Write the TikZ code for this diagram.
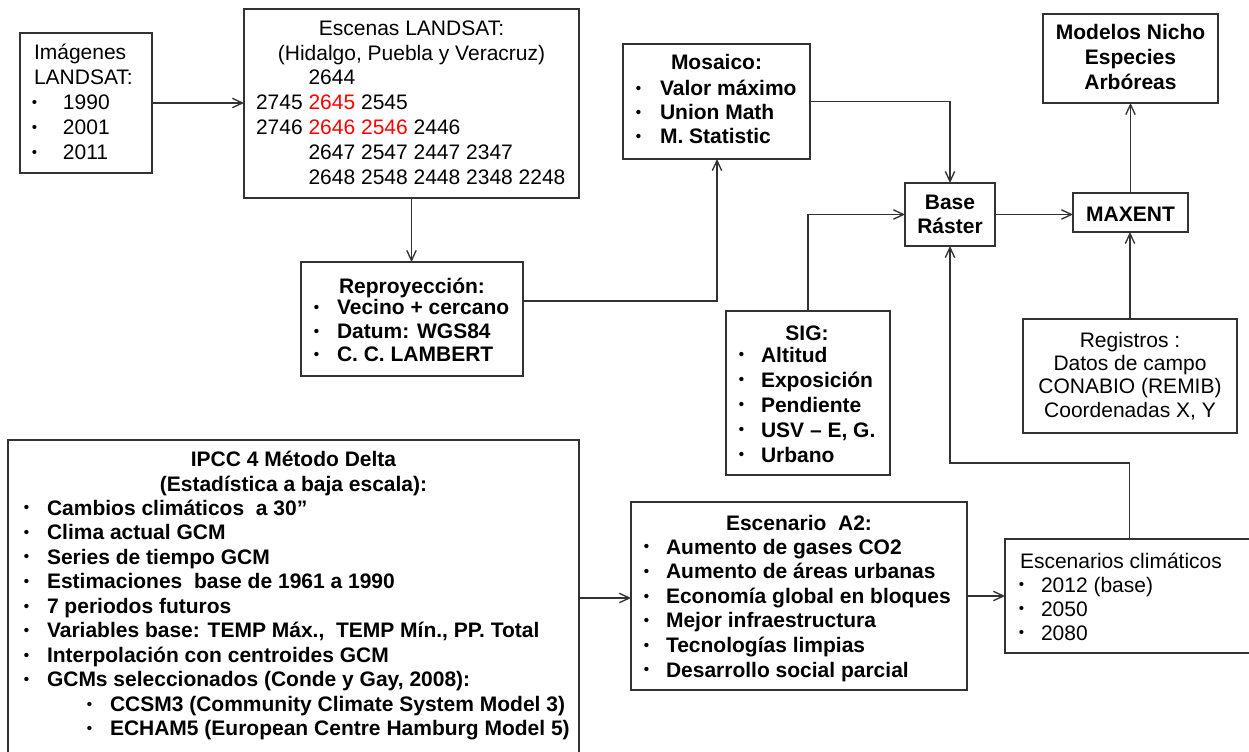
\documentclass[tikz,border=0pt]{standalone}
\usepackage{fontspec}
\usepackage{graphicx}
\setmainfont{Liberation Sans}
\usetikzlibrary{arrows.meta,fit}
\definecolor{linec}{RGB}{50,50,50}
\newcommand\fs{\rule{0pt}{12pt}}
\newcommand\bl[1]{\makebox[#1][l]{\hspace{0.6pt}\raisebox{0.1em}{\scalebox{0.72}{•}}}}
\begin{document}
\begin{tikzpicture}[x=0.75pt,y=-0.75pt,
 box/.style={draw=linec, line width=1pt, inner sep=0pt, outer sep=0pt},
 arr/.style={draw=linec, line width=1pt, -{Straight Barb[length=7.5pt,width=7pt]}},
 txt/.style={inner sep=0pt, outer sep=0pt, align=left, anchor=north west, font={\fontsize{15.75pt}{#1}\selectfont}},
 txtb/.style={txt=#1, font={\fontsize{15.75pt}{#1}\selectfont\bfseries}},
 ctr/.style={inner sep=0pt, outer sep=0pt, align=center, anchor=north, font={\fontsize{15.75pt}{#1}\selectfont}},
 ctrb/.style={ctr=#1, font={\fontsize{15.75pt}{#1}\selectfont\bfseries}},
]
\path[use as bounding box, fill=white] (0,0) rectangle (1249,752);

% boxes
\node[box, fit={(20,33) (152,173)}] (img) {};
\node[box, fit={(244,9) (579,198)}] (esc) {};
\node[box, fit={(301,262) (523,376)}] (rep) {};
\node[box, fit={(623,44) (810,159)}] (mos) {};
\node[box, fit={(1043,14) (1218,103)}] (mod) {};
\node[box, fit={(905,183) (995,246)}] (base) {};
\node[box, fit={(1073,193) (1188,232)}] (maxent) {};
\node[box, fit={(1023,319) (1237,433)}] (reg) {};
\node[box, fit={(726,311) (890,475)}] (sig) {};
\node[box, fit={(631,502) (967,690)}] (a2) {};
\node[box, fit={(1005,539) (1254,653)}] (escclim) {};
\node[box, fit={(8,440) (579,756)}] (ipcc) {};

% texts
\node[txt=18.75pt] (img-t) at (31,44) {\fs\hspace{2.25pt}Imágenes\\\hspace{2.25pt}LANDSAT:\\\bl{24pt}1990\\\bl{24pt}2001\\\bl{24pt}2011};

\node[ctr=18.75pt] (esc-t) at (411.5,20) {\fs Escenas LANDSAT:\\(Hidalgo, Puebla y Veracruz)};
\node[txt=18.75pt] (esc-n) at (256,69) {\fs\hphantom{2745}\ 2644\\2745 \textcolor{red}{2645} 2545\\2746 \textcolor{red}{2646 2546} 2446\\\hphantom{2745}\ 2647 2547 2447 2347\\\hphantom{2745}\ 2648 2548 2448 2348 2248};

\node[ctrb=18pt] (rep-t) at (412,277) {\fs Reproyección:};
\node[txtb=17.6pt] (rep-l) at (313,299) {\fs\bl{18pt}Vecino + cercano\\\bl{18pt}Datum: WGS84\\\bl{18pt}C. C. LAMBERT};

\node[ctrb=18pt] (mos-t) at (716.5,54) {\fs Mosaico:};
\node[txtb=18pt] (mos-l) at (635,80) {\fs\bl{18.75pt}Valor máximo\\\bl{18.75pt}Union Math\\\bl{18.75pt}M. Statistic};

\node[ctrb=18.75pt] (mod-t) at (1130.5,24) {\fs Modelos Nicho\\Especies\\Arbóreas};
\node[ctrb=18pt] (base-t) at (950,194) {\fs Base\\Ráster};
\node[ctrb=18pt] (maxent-t) at (1130.5,206) {\fs MAXENT};
\node[ctr=17.5pt] (reg-t) at (1130,331) {\fs Registros :\\Datos de campo\\CONABIO (REMIB)\\Coordenadas X, Y};

\node[ctrb=18pt] (sig-t) at (807,324) {\fs SIG:};
\node[txtb=18.75pt] (sig-l) at (738,346) {\fs\bl{17.25pt}Altitud\\\bl{17.25pt}Exposición\\\bl{17.25pt}Pendiente\\\bl{17.25pt}USV – E, G.\\\bl{17.25pt}Urbano};

\node[ctrb=18pt] (a2-t) at (799,514) {\fs Escenario\ \ A2:};
\node[txtb=18.45pt] (a2-l) at (643,538) {\fs\bl{17.25pt}Aumento de gases CO2\\\bl{17.25pt}Aumento de áreas urbanas\\\bl{17.25pt}Economía global en bloques\\\bl{17.25pt}Mejor infraestructura\\\bl{17.25pt}Tecnologías limpias\\\bl{17.25pt}Desarrollo social parcial};

\node[txt=18pt] (escclim-t) at (1018,552) {\fs\hspace{1.5pt}Escenarios climáticos\\\bl{17.25pt}2012 (base)\\\bl{17.25pt}2050\\\bl{17.25pt}2080};

\node[ctrb=18.75pt] (ipcc-t) at (293.5,450) {\fs IPCC 4 Método Delta\\(Estadística a baja escala):};
\node[txtb=18.4pt] (ipcc-l) at (23,499) {\fs\bl{18pt}Cambios climáticos\ \ a 30”\\
\bl{18pt}Clima actual GCM\\
\bl{18pt}Series de tiempo GCM\\
\bl{18pt}Estimaciones\ \ base de 1961 a 1990\\
\bl{18pt}7 periodos futuros\\
\bl{18pt}Variables base: TEMP Máx.,\ \ TEMP Mín., PP. Total\\
\bl{18pt}Interpolación con centroides GCM\\
\bl{18pt}GCMs seleccionados (Conde y Gay, 2008):\\
\hspace{47.25pt}\bl{18pt}CCSM3 (Community Climate System Model 3)\\
\hspace{47.25pt}\bl{18pt}ECHAM5 (European Centre Hamburg Model 5)};

% connectors
\coordinate (c1) at (717,301);
\coordinate (c2) at (0,463);
\draw[arr] (img.east) -- (img.east -| esc.west);
\draw[arr] (esc.south) -- (esc.south |- rep.north);
\draw[arr] (rep.east |- c1) -- (c1) -- (c1 |- mos.south);
\draw[arr] (mos.east) -- (mos.east -| base.north) -- (base.north);
\draw[arr] (sig.north) -- (sig.north |- base.west) -- (base.west);
\draw[arr] (base.east) -- (base.east -| maxent.west);
\draw[arr] (maxent.north) -- (maxent.north |- mod.south);
\draw[arr] (reg.north) -- (reg.north |- maxent.south);
\draw[arr] (escclim.north) -- (escclim.north |- c2) -- (base.south |- c2) -- (base.south);
\draw[arr] (ipcc.east) -- (ipcc.east -| a2.west);
\draw[arr] (a2.east) -- (a2.east -| escclim.west);
\end{tikzpicture}
\end{document}
